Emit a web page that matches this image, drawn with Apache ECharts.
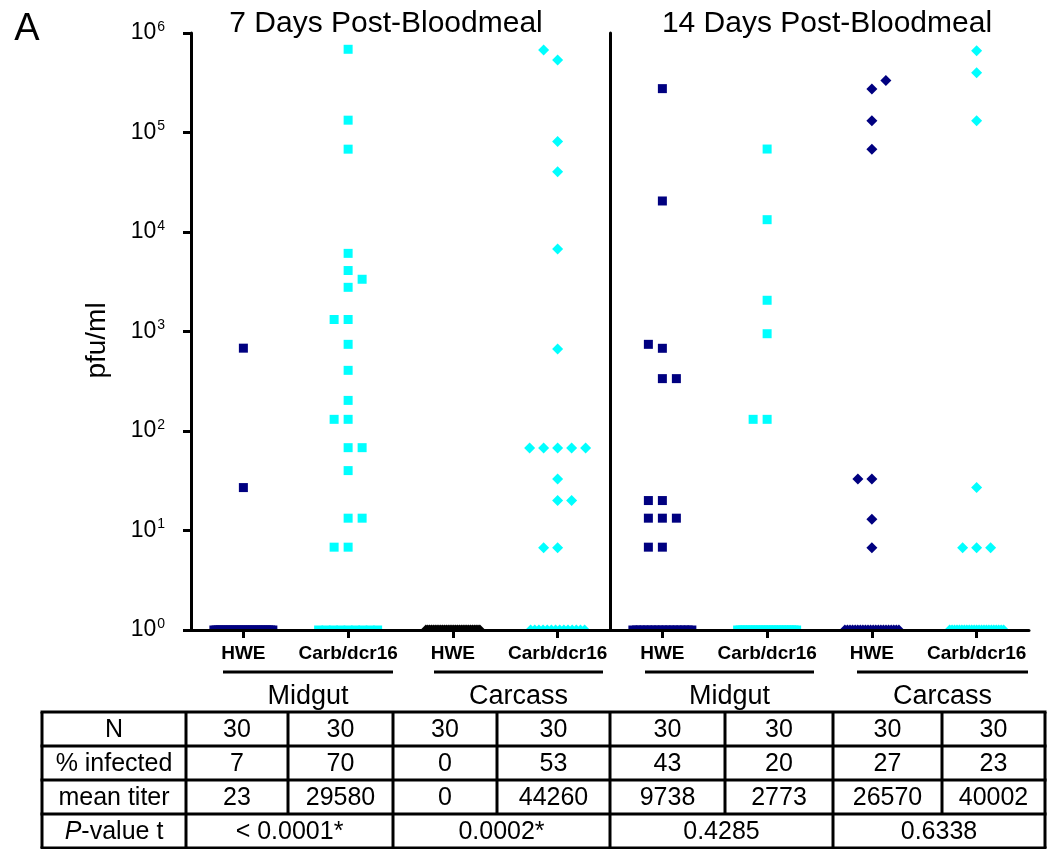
<!DOCTYPE html>
<html>
<head>
<meta charset="utf-8">
<script src="https://cdn.jsdelivr.net/npm/echarts@6/dist/echarts.min.js"></script>
<style>html,body{margin:0;padding:0;background:#fff}#c{width:1048px;height:849px}</style>
</head>
<body>
<div id="c"></div>
<script>
// ---------------- data ----------------
const categories = ['HWE', 'Carb/dcr16', 'HWE', 'Carb/dcr16'];
const panelTitles = ['7 Days Post-Bloodmeal', '14 Days Post-Bloodmeal'];
const tissues = ['Midgut', 'Carcass', 'Midgut', 'Carcass'];
const yTickExponents = [0, 1, 2, 3, 4, 5, 6];

// titers (pfu/ml) of infected mosquitoes
const d7MidgutHWE = [680, 27];
const d7MidgutCarb = [686000, 133000, 68000, 6100, 4100, 3350, 2780, 1320, 1320, 743, 407, 203, 131, 131, 68, 68, 40, 13.3, 13.3, 6.8, 6.8];
const d7CarcassHWE = [];
const d7CarcassCarb = [675000, 535000, 81000, 40400, 6750, 667, 67.5, 67.5, 67.5, 67.5, 67.5, 33, 20, 20, 6.7, 6.7];
const d14MidgutHWE = [276000, 20500, 743, 678, 336, 336, 20, 20, 13.3, 13.3, 13.3, 6.8, 6.8];
const d14MidgutCarb = [68200, 13300, 2060, 950, 131, 131];
const d14CarcassHWE = [333000, 274000, 131000, 67800, 33, 33, 13, 6.7];
const d14CarcassCarb = [664000, 399000, 131000, 27, 6.7, 6.7, 6.7];
// uninfected mosquitoes, plotted at 10^0
const uninfectedCounts = [28, 9, 30, 14, 17, 24, 22, 23];

// table
const rowLabels = ['N', '% infected', 'mean titer'];
const nValues = [30, 30, 30, 30, 30, 30, 30, 30];
const pctInfected = [7, 70, 0, 53, 43, 20, 27, 23];
const meanTiter = [23, 29580, 0, 44260, 9738, 2773, 26570, 40002];
const pValues = ['< 0.0001*', '0.0002*', '0.4285', '0.6338'];

// ---------------- layout / style ----------------
const FONT = "'Liberation Sans', Arial, Helvetica, sans-serif";
const NAVY = '#000080', CYAN = '#00FFFF', BLACK = '#000000';
const groupColors = [NAVY, CYAN, BLACK, CYAN, NAVY, CYAN, NAVY, CYAN];
// horizontal spreading slots (in units of one symbol width) for overlapping points
const jitterSlots = [
  [0, 0],
  [0, 0, 0, 0, 0, 1, 0, -1, 0, 0, 0, 0, -1, 0, 0, 1, 0, 0, 1, -1, 0],
  [],
  [-1, 0, 0, 0, 0, 0, -2, -1, 0, 1, 2, 0, 0, 1, -1, 0],
  [0, 0, -1, 0, 0, 1, -1, 0, -1, 0, 1, -1, 0],
  [0, 0, 0, 0, -1, 0],
  [1, 0, 0, 0, -1, 0, 0, 0],
  [0, 0, 0, 0, -1, 0, 1]
];
const STEP = 14;

const infected = [d7MidgutHWE, d7MidgutCarb, d7CarcassHWE, d7CarcassCarb,
                  d14MidgutHWE, d14MidgutCarb, d14CarcassHWE, d14CarcassCarb];

const series = infected.map((vals, g) => {
  const isMid = (g % 4) < 2;
  const ax = g < 4 ? 0 : 1;
  const cat = g % 4;
  const data = vals.map((v, i) => ({ value: [cat, v], symbolOffset: [jitterSlots[g][i] * STEP, 0] }));
  const n = uninfectedCounts[g];
  const half = isMid ? 29.5 : 27;
  for (let k = 0; k < n; k++) {
    const dx = n > 1 ? -half + 2 * half * k / (n - 1) : 0;
    data.push({
      value: [cat, 1],
      symbol: isMid ? 'rect' : 'triangle',
      symbolSize: isMid ? [9, 4.5] : [11, 5.5],
      symbolOffset: [dx, isMid ? -2.25 : -2.75]
    });
  }
  return {
    type: 'scatter', xAxisIndex: ax, yAxisIndex: ax,
    symbol: isMid ? 'rect' : 'diamond', symbolSize: isMid ? 9 : 11,
    itemStyle: { color: groupColors[g], opacity: 1 },
    clip: false, z: 2, silent: true, animation: false,
    data
  };
});

const axisLineStyle = { color: '#000', width: 3 };
function xAxisDef(gi) {
  return {
    type: 'category', gridIndex: gi, data: categories, z: 3,
    axisLine: { show: true, lineStyle: axisLineStyle },
    axisTick: { show: true, alignWithLabel: true, length: 8, lineStyle: { color: '#000', width: 3 } },
    axisLabel: { interval: 0, hideOverlap: false, fontFamily: FONT, fontWeight: 'bold', fontSize: 19, color: '#000', margin: 14 },
    splitLine: { show: false }
  };
}
function yAxisDef(gi) {
  const left = gi === 0;
  return {
    type: 'log', logBase: 10, gridIndex: gi, min: Math.pow(10, yTickExponents[0]),
    max: Math.pow(10, yTickExponents[yTickExponents.length - 1]), splitNumber: 6, z: 3,
    axisLine: { show: true, lineStyle: axisLineStyle },
    axisTick: { show: left, length: 8, lineStyle: { color: '#000', width: 3 } },
    axisLabel: {
      show: left, margin: 26, color: '#000',
      formatter: v => '{b|10}{s|' + Math.round(Math.log10(v)) + '}',
      rich: {
        b: { fontFamily: FONT, fontSize: 23, color: '#000' },
        s: { fontFamily: FONT, fontSize: 14, color: '#000', padding: [0, 0, 12, 1] }
      }
    },
    splitLine: { show: false },
    name: left ? 'pfu/ml' : '', nameLocation: 'middle', nameGap: 80,
    nameTextStyle: { fontFamily: FONT, fontSize: 28, color: '#000', padding: [0, 18, 0, 0] }
  };
}

// ---------------- graphics (titles, group labels, table) ----------------
const graphic = [];
function txt(x, y, text, size, extra) {
  graphic.push(Object.assign({
    type: 'text', x, y, z: 10, silent: true,
    style: Object.assign({
      text, fill: '#000', fontFamily: FONT, fontSize: size,
      align: 'center', verticalAlign: 'middle', textAlign: 'center', textVerticalAlign: 'middle'
    }, extra || {})
  }));
}
function line(x1, y1, x2, y2, w) {
  graphic.push({ type: 'line', z: 10, silent: true, shape: { x1, y1, x2, y2 }, style: { stroke: '#000', lineWidth: w || 3 } });
}

txt(27, 30, 'A', 38);
txt(386, 24, panelTitles[0], 30);
txt(827, 24, panelTitles[1], 30);

const underlines = [[223, 393], [434, 603], [645, 814], [857, 1028]];
underlines.forEach((u, i) => {
  line(u[0], 672, u[1], 672, 3);
  txt((u[0] + u[1]) / 2, 697, tissues[i], 27);
});

const colEdges = [42, 186, 288, 393, 497, 610, 725, 833, 942, 1045];
const rowEdges = [712, 746, 780, 814, 848];
rowEdges.forEach(y => line(colEdges[0] - 1.5, y, colEdges[colEdges.length - 1] + 1.5, y, 3));
colEdges.forEach((x, i) => {
  const merged = i === 0 || i === 1 || i === 3 || i === 5 || i === 7 || i === 9;
  line(x, rowEdges[0], x, merged ? rowEdges[4] : rowEdges[3], 3);
});
const tableRows = [nValues, pctInfected, meanTiter];
tableRows.forEach((row, r) => {
  const yc = (rowEdges[r] + rowEdges[r + 1]) / 2 + 1;
  txt((colEdges[0] + colEdges[1]) / 2, yc, rowLabels[r], 25);
  row.forEach((v, c) => txt((colEdges[c + 1] + colEdges[c + 2]) / 2, yc, String(v), 25));
});
{
  const yc = (rowEdges[3] + rowEdges[4]) / 2 + 1;
  txt((colEdges[0] + colEdges[1]) / 2, yc, '{i|P}-value t', 25, {
    rich: { i: { fontStyle: 'italic', fontFamily: FONT, fontSize: 25, fill: '#000' } }
  });
  pValues.forEach((p, k) => txt((colEdges[1 + 2 * k] + colEdges[3 + 2 * k]) / 2, yc, p, 25));
}

const chart = echarts.init(document.getElementById('c'), null, { renderer: 'canvas' });
chart.setOption({
  backgroundColor: '#fff',
  animation: false,
  textStyle: { fontFamily: FONT },
  grid: [
    { left: 191, top: 33, width: 419, height: 597, containLabel: false },
    { left: 610, top: 33, width: 419, height: 597, containLabel: false }
  ],
  xAxis: [xAxisDef(0), xAxisDef(1)],
  yAxis: [yAxisDef(0), yAxisDef(1)],
  series,
  graphic
});
</script>
</body>
</html>
